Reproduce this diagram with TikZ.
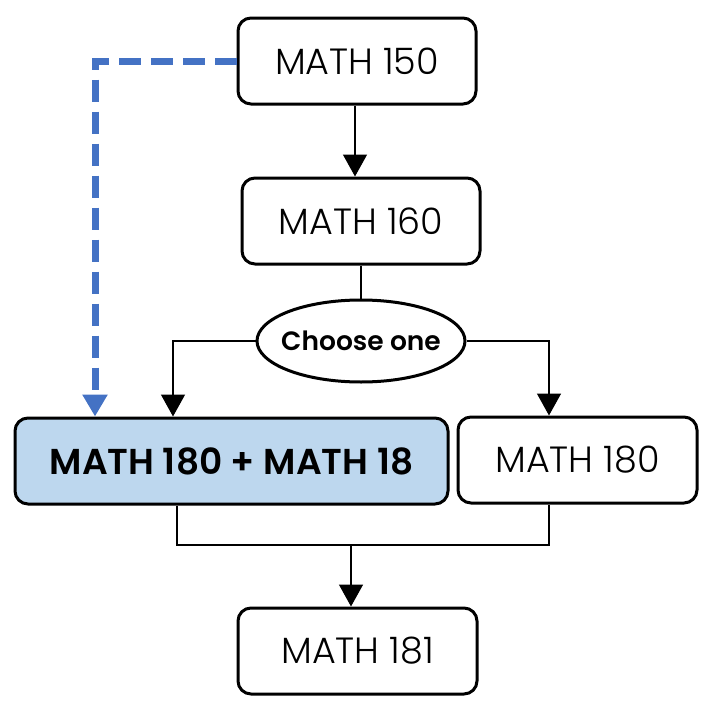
\documentclass[tikz,border=0pt]{standalone}
\usepackage{fontspec}
\setmainfont{Poppins}[UprightFont=* Light,BoldFont=* SemiBold]
\usetikzlibrary{shapes.geometric,arrows.meta}
\definecolor{dashblue}{HTML}{4472C4}
\definecolor{boxblue}{HTML}{BDD7EE}
\begin{document}
\begin{tikzpicture}[x=1pt,y=-1pt,
  course/.style={draw,line width=3pt,rounded corners=13pt,minimum width=238pt,minimum height=86pt,inner sep=0pt,font=\fontsize{36.5}{42}\selectfont},
  choice/.style={draw,ellipse,line width=3pt,minimum width=208pt,minimum height=82pt,inner sep=0pt},
  conn/.style={line width=1.5pt},
  arr/.style={conn,-{Triangle[length=22pt,width=24pt]}}]
\useasboundingbox (0,0) rectangle (709,712);
\node[course] (m150) at (357,61) {MATH 150};
\node[course] (m160) at (361,221) {MATH 160};
\node[choice,label={[font=\fontsize{26.5}{32}\selectfont\bfseries,inner sep=0pt]center:Choose one}] (ch) at (361,341) {};
\node[course,fill=boxblue,minimum width=433pt,font=\fontsize{36}{42}\selectfont\bfseries] (m18) at (231.5,461) {MATH 180 + MATH 18};
\node[course,minimum width=239pt] (m180) at (577.5,460) {MATH 180};
\node[course,minimum width=239pt] (m181) at (357.5,651) {MATH 181};
\coordinate (ta) at (355,104);
\coordinate (lb) at (173,341);
\coordinate (rb) at (549,341);
\coordinate (jl) at (177,545);
\coordinate (jr) at (549,545);
\coordinate (jm) at (351,545);
\coordinate (dc) at (95,61);
\draw[arr] (ta |- m150.south) -- (ta |- m160.north);
\draw[conn] (m160.south) -- (ch.north);
\draw[arr] (ch.west) -- (lb) -- (lb |- m18.north);
\draw[arr] (ch.east) -- (rb) -- (rb |- m180.north);
\draw[conn] (jl |- m18.south) -- (jl) -- (jr) -- (jr |- m180.south);
\draw[arr] (jm) -- (jm |- m181.north);
\draw[dashblue,line width=7pt,dash pattern=on 22pt off 10pt,-{Triangle[length=22pt,width=24pt]}] (m150.west) -- (dc) -- (dc |- m18.north);
\end{tikzpicture}
\end{document}
